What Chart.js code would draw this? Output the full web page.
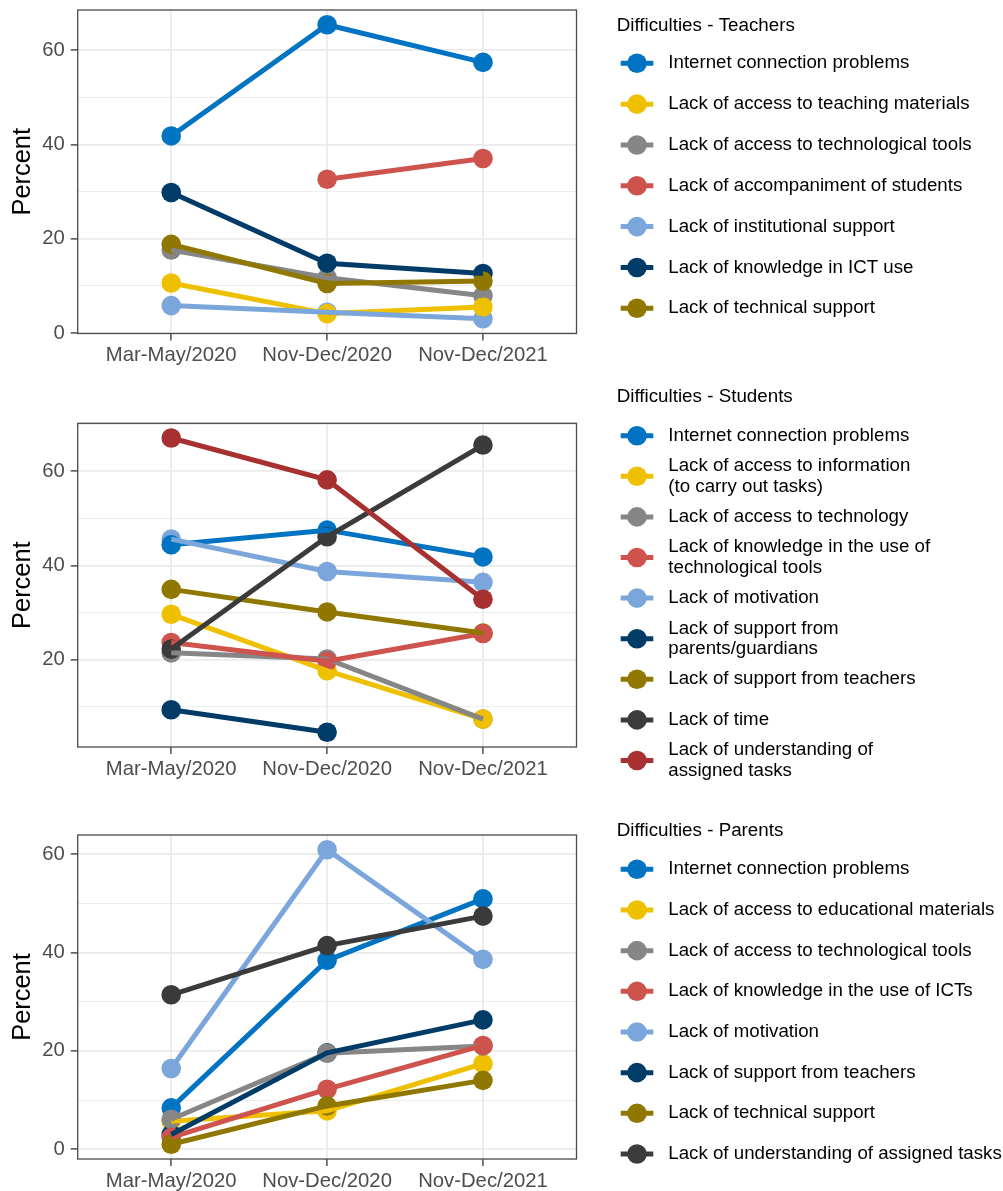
<!DOCTYPE html>
<html>
<head>
<meta charset="utf-8">
<script src="https://cdn.jsdelivr.net/npm/chart.js@4.4.1/dist/chart.umd.min.js"></script>
<style>
  html, body { margin: 0; padding: 0; background: #ffffff; }
  #wrap { position: relative; width: 1003px; height: 1191px; }
  canvas { position: absolute; left: 0; }
</style>
</head>
<body>
<div id="wrap">
  <canvas id="teachers" width="1003" height="380" style="top:0px"></canvas>
  <canvas id="students" width="1003" height="420" style="top:380px"></canvas>
  <canvas id="parents" width="1003" height="391" style="top:800px"></canvas>
</div>
<script>
// Survey periods (x axis)
const periods = ['Mar-May/2020', 'Nov-Dec/2020', 'Nov-Dec/2021'];
// Y axis breaks; every second one carries a label
const yBreaks = [0, 10, 20, 30, 40, 50, 60, 70];
const yLabelled = [0, 20, 40, 60];
// Series colours (JCO palette)
const palette = ['#0073C2', '#EFC000', '#868686', '#CD534C', '#7AA6DC', '#003C67', '#8F7700', '#3B3B3B', '#A73030'];

// ---- Teachers ----
const teacherLabels = [
  'Internet connection problems',
  'Lack of access to teaching materials',
  'Lack of access to technological tools',
  'Lack of accompaniment of students',
  'Lack of institutional support',
  'Lack of knowledge in ICT use',
  'Lack of technical support'
];
const tInternet      = [41.8, 65.4, 57.4];
const tMaterials     = [10.6, 4.1, 5.5];
const tTools         = [17.6, 11.7, 7.9];
const tAccompaniment = [null, 32.6, 37.0];
const tInstitutional = [5.8, 4.4, 3.0];
const tIctKnowledge  = [29.8, 14.8, 12.6];
const tTechSupport   = [18.8, 10.5, 11.0];

// ---- Students ----
const studentLabels = [
  'Internet connection problems',
  'Lack of access to information\n(to carry out tasks)',
  'Lack of access to technology',
  'Lack of knowledge in the use of\ntechnological tools',
  'Lack of motivation',
  'Lack of support from\nparents/guardians',
  'Lack of support from teachers',
  'Lack of time',
  'Lack of understanding of\nassigned tasks'
];
const sInternet      = [44.4, 47.5, 41.8];
const sInformation   = [29.6, 17.6, 7.3];
const sTechnology    = [21.4, 20.1, 7.3];
const sKnowledge     = [23.6, 19.6, 25.5];
const sMotivation    = [45.6, 38.7, 36.4];
const sParentSupport = [9.3, 4.5, null];
const sTeacherSupport= [34.9, 30.1, 25.6];
const sTime          = [22.2, 46.1, 65.6];
const sUnderstanding = [67.1, 58.2, 32.8];

// ---- Parents ----
const parentLabels = [
  'Internet connection problems',
  'Lack of access to educational materials',
  'Lack of access to technological tools',
  'Lack of knowledge in the use of ICTs',
  'Lack of motivation',
  'Lack of support from teachers',
  'Lack of technical support',
  'Lack of understanding of assigned tasks'
];
const pInternet      = [8.4, 38.4, 50.9];
const pMaterials     = [5.7, 7.8, 17.4];
const pTools         = [6.1, 19.5, 21.0];
const pIctKnowledge  = [2.4, 12.2, 21.1];
const pMotivation    = [16.4, 60.9, 38.6];
const pTeacherSupport= [3.0, 19.6, 26.3];
const pTechSupport   = [1.0, 8.8, 14.0];
const pUnderstanding = [31.4, 41.4, 47.4];

const FONT = "'Liberation Sans', Arial, Helvetica, sans-serif";
Chart.defaults.font.family = FONT;

// Panel frame drawn over the data
const framePlugin = {
  id: 'frame',
  afterDatasetsDraw(chart) {
    const { ctx, chartArea: a } = chart;
    ctx.save();
    ctx.strokeStyle = '#4a4a4a';
    ctx.lineWidth = 1.3;
    ctx.strokeRect(a.left, a.top, a.right - a.left, a.bottom - a.top);
    ctx.restore();
  }
};

// Legend to the right of each panel (line + dot keys, multi-line labels)
const legendPlugin = {
  id: 'sideLegend',
  afterDraw(chart, args, opts) {
    const { ctx } = chart;
    ctx.save();
    ctx.textBaseline = 'middle';
    ctx.textAlign = 'left';
    ctx.fillStyle = '#000000';
    ctx.font = '18.8px ' + FONT;
    ctx.fillText(opts.title, 616.7, opts.titleY);
    const items = chart.data.datasets.filter(d => d.legendItem);
    items.forEach((d, i) => {
      const y = opts.firstY + i * opts.step;
      ctx.strokeStyle = d.borderColor;
      ctx.lineWidth = 5;
      ctx.lineCap = 'butt';
      ctx.beginPath();
      ctx.moveTo(620.7, y);
      ctx.lineTo(653.3, y);
      ctx.stroke();
      ctx.fillStyle = d.borderColor;
      ctx.beginPath();
      ctx.arc(637, y, 9.8, 0, Math.PI * 2);
      ctx.fill();
      ctx.fillStyle = '#000000';
      ctx.font = '18.7px ' + FONT;
      const lines = d.label.split('\n');
      const lh = 20.6;
      lines.forEach((ln, k) => {
        ctx.fillText(ln, 668.3, y + (k - (lines.length - 1) / 2) * lh);
      });
    });
    ctx.restore();
  }
};

function buildPanel(id, title, labels, series, pointRank, layout) {
  const all = series.flat().filter(v => v !== null);
  const lo = Math.min(...all), hi = Math.max(...all);
  const pad = (hi - lo) * 0.05;

  const datasets = [];
  labels.forEach((lab, i) => {
    const pts = series[i].map((v, k) => ({ x: k, y: v }));
    // connecting line
    datasets.push({
      label: lab, data: pts, legendItem: true,
      borderColor: palette[i], backgroundColor: palette[i],
      borderWidth: 5, pointRadius: 0, pointHoverRadius: 0,
      showLine: true, spanGaps: false, tension: 0,
      order: 500 - i
    });
    // markers
    datasets.push({
      label: lab, data: pts,
      borderColor: palette[i], backgroundColor: palette[i],
      pointBackgroundColor: palette[i], pointBorderWidth: 0,
      pointRadius: 9.8, pointHoverRadius: 9.8,
      showLine: false,
      order: 1000 - pointRank.indexOf(i)
    });
  });

  return new Chart(document.getElementById(id), {
    type: 'line',
    data: { datasets },
    plugins: [framePlugin, legendPlugin],
    options: {
      responsive: false,
      animation: false,
      devicePixelRatio: 1,
      events: [],
      layout: { autoPadding: false, padding: { top: layout.top, right: 426.5, bottom: 0, left: 0 } },
      plugins: {
        legend: { display: false },
        tooltip: { enabled: false },
        sideLegend: { title, titleY: layout.titleY, firstY: layout.firstY, step: layout.step }
      },
      scales: {
        x: {
          type: 'linear', min: -0.6, max: 2.6,
          afterBuildTicks: s => { s.ticks = periods.map((_, k) => ({ value: k })); },
          afterFit: s => { s.height = layout.xAxisH; s.paddingLeft = 0; s.paddingRight = 0; },
          ticks: {
            callback: v => periods[v],
            color: '#4D4D4D', font: { size: 20.3 }, padding: 3,
            maxRotation: 0, autoSkip: false
          },
          grid: { color: '#EBEBEB', lineWidth: 1.8, tickColor: '#333333', tickLength: 7, tickWidth: 1.3 },
          border: { display: false }
        },
        y: {
          min: lo - pad, max: hi + pad,
          afterBuildTicks: s => { s.ticks = yBreaks.filter(v => v >= s.min && v <= s.max).map(v => ({ value: v })); },
          afterFit: s => { s.width = 77.7; s.paddingTop = 0; s.paddingBottom = 0; },
          ticks: {
            callback: v => yLabelled.includes(v) ? String(v) : '',
            color: '#4D4D4D', font: { size: 20.3 }, padding: 6
          },
          grid: {
            color: '#EBEBEB',
            lineWidth: c => (c.tick && yLabelled.includes(c.tick.value)) ? 1.8 : 0.9,
            tickColor: c => (c.tick && yLabelled.includes(c.tick.value)) ? '#333333' : 'rgba(0,0,0,0)',
            tickLength: 7, tickWidth: 1.3
          },
          border: { display: false },
          title: { display: true, text: 'Percent', color: '#000000', font: { size: 25.4 }, padding: { top: 8, bottom: 0 } }
        }
      }
    }
  });
}

buildPanel('teachers', 'Difficulties - Teachers', teacherLabels,
  [tInternet, tMaterials, tTools, tAccompaniment, tInstitutional, tIctKnowledge, tTechSupport],
  [0, 2, 3, 4, 5, 6, 1],
  { top: 10, xAxisH: 46.5, titleY: 25.7, firstY: 63.3, step: 40.83 });

buildPanel('students', 'Difficulties - Students', studentLabels,
  [sInternet, sInformation, sTechnology, sKnowledge, sMotivation, sParentSupport, sTeacherSupport, sTime, sUnderstanding],
  [4, 0, 2, 1, 6, 3, 5, 7, 8],
  { top: 43.3, xAxisH: 53, titleY: 17.3, firstY: 55.7, step: 40.6 });

buildPanel('parents', 'Difficulties - Parents', parentLabels,
  [pInternet, pMaterials, pTools, pIctKnowledge, pMotivation, pTeacherSupport, pTechSupport, pUnderstanding],
  [0, 1, 5, 2, 3, 4, 6, 7],
  { top: 35, xAxisH: 32, titleY: 30.7, firstY: 69.3, step: 40.67 });
</script>
</body>
</html>
